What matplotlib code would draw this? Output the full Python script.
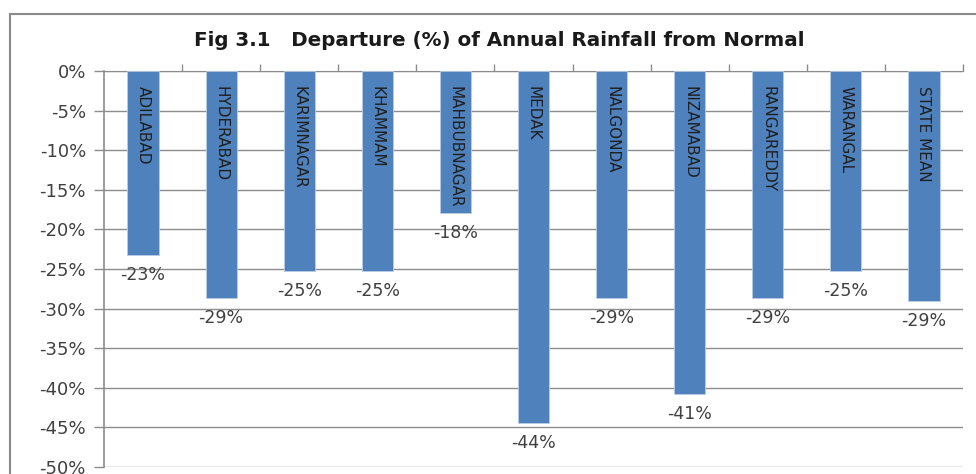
import matplotlib.pyplot as plt
from matplotlib.patches import Rectangle

districts = ['ADILABAD', 'HYDERABAD', 'KARIMNAGAR', 'KHAMMAM', 'MAHBUBNAGAR', 'MEDAK',
             'NALGONDA', 'NIZAMABAD', 'RANGAREDDY', 'WARANGAL', 'STATE MEAN']
departure = [-23.2, -28.7, -25.2, -25.2, -17.9, -44.4, -28.6, -40.8, -28.7, -25.2, -29.0]
yticks = [0, -5, -10, -15, -20, -25, -30, -35, -40, -45, -50]

bar_color = '#4F81BD'
grid_color = '#8C8C8C'
text_color = '#404040'

fig = plt.figure(figsize=(9.76, 4.74), dpi=100)
ax = fig.add_axes([104 / 976, 1 - 467 / 474, (963 - 104) / 976, (467 - 71) / 474])

# outer chart border (runs off the right and bottom edges)
fig.patches.append(Rectangle((10 / 976, -0.2), 1.2, 1.2 - 14 / 474,
                             transform=fig.transFigure, fill=False,
                             edgecolor='#8A8A8A', linewidth=1.5))

x = list(range(len(districts)))
ax.bar(x, departure, width=0.4, color=bar_color, edgecolor='#B9CDE5', linewidth=0.6, zorder=3)

ax.set_xlim(-0.5, len(districts) - 0.5)
ax.set_ylim(-50, 0)
ax.set_yticks(yticks)
ax.set_yticklabels(['%d%%' % v for v in yticks], fontsize=13, color=text_color,
                   family=['DejaVu Sans'])
ax.yaxis.grid(True, color=grid_color, linewidth=1.0, zorder=0)
ax.tick_params(axis='y', length=7, color=grid_color, width=1, pad=6)

# category separators along the top (0%) line
ax.xaxis.tick_top()
ax.set_xticks([i + 0.5 for i in x])
ax.set_xticklabels([])
ax.tick_params(axis='x', direction='out', length=5, color=grid_color, width=1)

for side in ['right', 'bottom']:
    ax.spines[side].set_visible(False)
ax.spines['top'].set_color(grid_color)
ax.spines['left'].set_color(grid_color)
ax.spines['left'].set_linewidth(1.2)

for i, (name, val) in enumerate(zip(districts, departure)):
    ax.text(i, -1.9, name, rotation=-90, ha='center', va='top', fontsize=11,
            color='#1F1F1F', family=['Liberation Sans Narrow', 'DejaVu Sans'], zorder=4)
    ax.annotate('%d%%' % round(val), xy=(i, val), xytext=(0, -8), textcoords='offset points',
                ha='center', va='top', fontsize=12.5, color=text_color, family=['DejaVu Sans'])

fig.text(0.512, 1 - 40 / 474, 'Fig 3.1   Departure (%) of Annual Rainfall from Normal',
         ha='center', va='center', fontsize=14.3, fontweight='bold', color='#1A1A1A',
         family=['DejaVu Sans'])

fig.savefig('out.png', dpi=100)
